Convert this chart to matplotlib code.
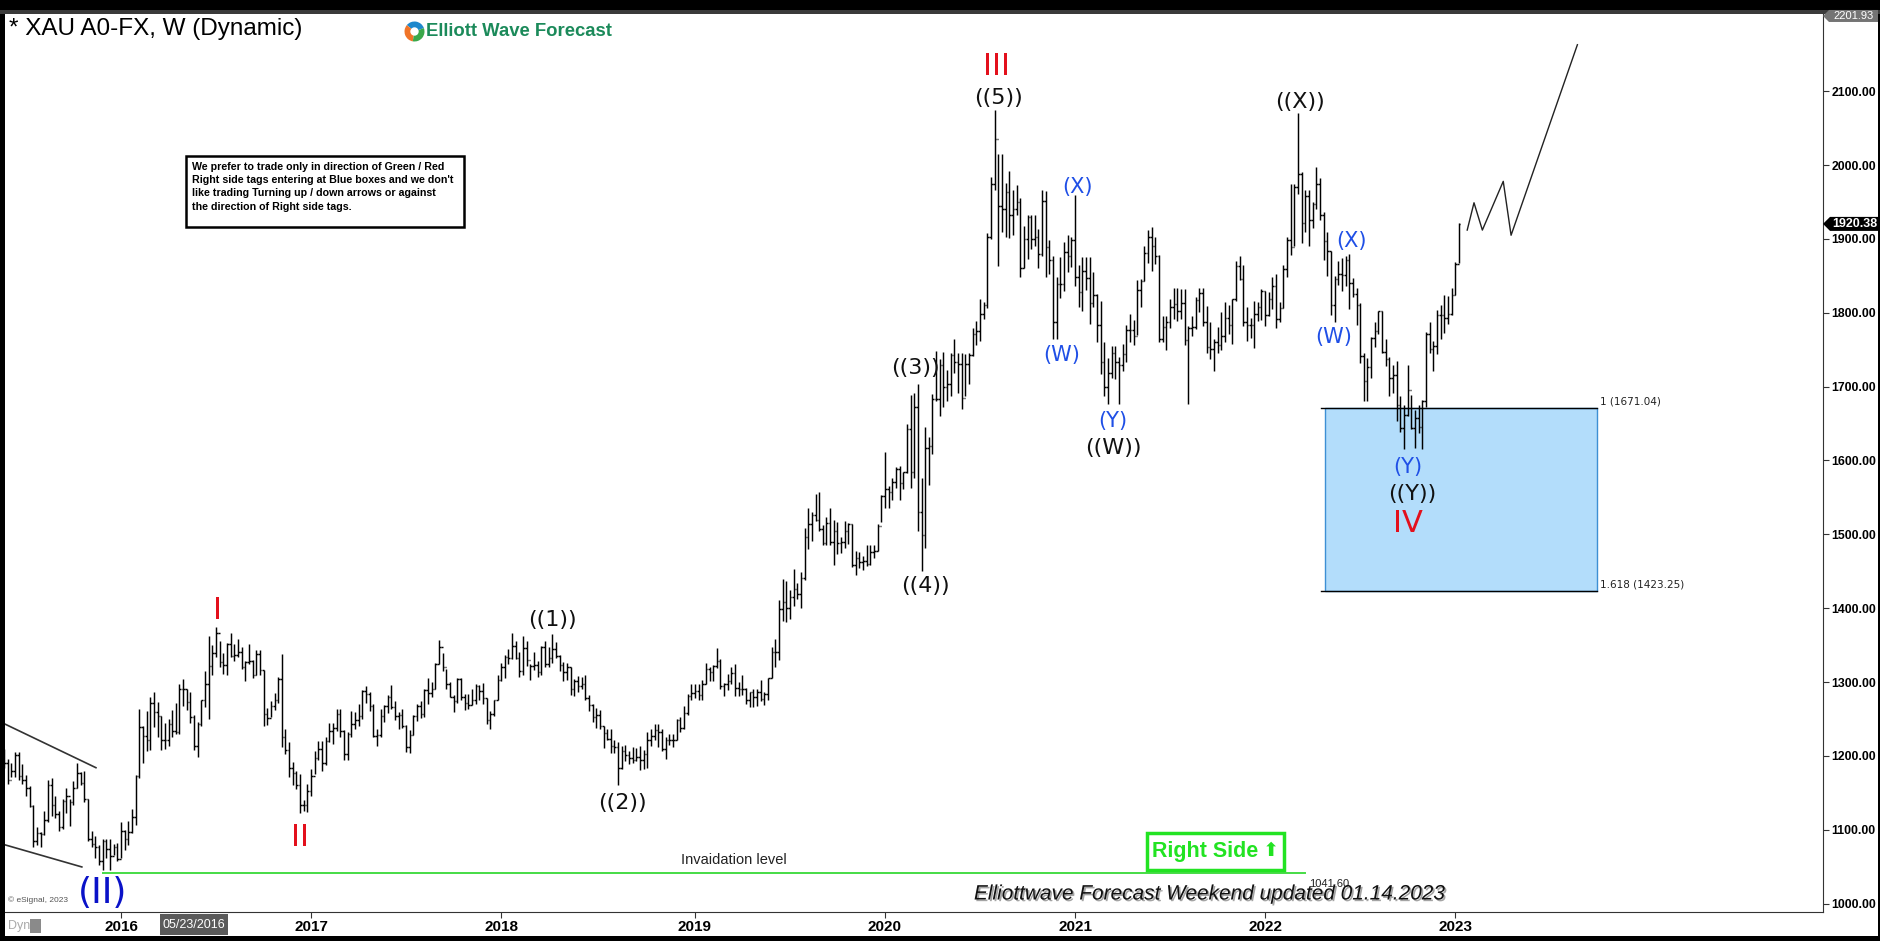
import numpy as np
import pandas as pd
import matplotlib
matplotlib.use('Agg')
import matplotlib.pyplot as plt
import matplotlib.dates as mdates
import matplotlib.patheffects as pe
from matplotlib.collections import LineCollection
from matplotlib.patches import Rectangle, Polygon, Wedge, Circle
from matplotlib.transforms import blended_transform_factory

plt.rcParams['font.family'] = ['Liberation Sans', 'DejaVu Sans']

# weekly bars (high, low, close); first week starts Monday 2015-05-25
first_open = 1205.0
w2015 = [(1209, 1183, 1190), (1196, 1162, 1168), (1191, 1171, 1179), (1205, 1172, 1201), (1205, 1168, 1173),
         (1189, 1162, 1168), (1174, 1146, 1157), (1159, 1131, 1132), (1133, 1077, 1085), (1104, 1080, 1095),
         (1097, 1077, 1094), (1126, 1093, 1113), (1168, 1111, 1160), (1170, 1119, 1134), (1146, 1116, 1121),
         (1125, 1098, 1104), (1142, 1101, 1139), (1157, 1123, 1146), (1141, 1105, 1137), (1166, 1133, 1156),
         (1191, 1156, 1177), (1178, 1161, 1163), (1180, 1137, 1142), (1142, 1085, 1088), (1098, 1077, 1081),
         (1091, 1062, 1076), (1080, 1052, 1057), (1088, 1046, 1085), (1088, 1062, 1074), (1088, 1046, 1065),
         (1081, 1066, 1076), (1082, 1058, 1061)]
w2016 = [(1111, 1062, 1098), (1100, 1072, 1088), (1112, 1080, 1097), (1128, 1096, 1117),
         (1174, 1107, 1173), (1263, 1170, 1239), (1240, 1191, 1227), (1261, 1207, 1221),
         (1280, 1208, 1271), (1287, 1239, 1259), (1273, 1225, 1254), (1254, 1208, 1221),
         (1245, 1209, 1222), (1250, 1213, 1243), (1262, 1226, 1234), (1271, 1230, 1233), (1297, 1230, 1291),
         (1304, 1268, 1290), (1290, 1262, 1273), (1287, 1244, 1252), (1255, 1208, 1214),
         (1246, 1199, 1243), (1276, 1240, 1275), (1315, 1266, 1298), (1362, 1250, 1322),
         (1350, 1309, 1339), (1375, 1334, 1366), (1356, 1320, 1327), (1339, 1311, 1323), (1353, 1310, 1351),
         (1367, 1334, 1335), (1352, 1328, 1336), (1358, 1334, 1341), (1347, 1317, 1321),
         (1329, 1302, 1327), (1352, 1325, 1328), (1330, 1306, 1310), (1344, 1309, 1338), (1343, 1310, 1316),
         (1316, 1241, 1257), (1265, 1242, 1251), (1274, 1252, 1267), (1285, 1262, 1276),
         (1307, 1272, 1304), (1338, 1212, 1225), (1236, 1202, 1208), (1219, 1171, 1183),
         (1192, 1160, 1177), (1180, 1155, 1161), (1176, 1123, 1134), (1140, 1125, 1133), (1162, 1124, 1152)]
w2017 = [(1182, 1146, 1173), (1207, 1176, 1197), (1220, 1194, 1209), (1220, 1180, 1191),
         (1225, 1187, 1220), (1245, 1219, 1234), (1245, 1216, 1238), (1264, 1234, 1257),
         (1264, 1225, 1234), (1235, 1194, 1202), (1232, 1195, 1229), (1261, 1226, 1243), (1260, 1237, 1249),
         (1270, 1241, 1254), (1289, 1250, 1288), (1295, 1271, 1284), (1287, 1261, 1268),
         (1270, 1226, 1227), (1236, 1214, 1228), (1264, 1226, 1254), (1269, 1246, 1267),
         (1282, 1258, 1280), (1296, 1264, 1266), (1274, 1249, 1254), (1260, 1236, 1256), (1263, 1238, 1241),
         (1242, 1205, 1212), (1235, 1204, 1228), (1256, 1228, 1254), (1270, 1247, 1268),
         (1274, 1251, 1257), (1291, 1253, 1289), (1306, 1270, 1285), (1300, 1280, 1291),
         (1326, 1291, 1325), (1357, 1324, 1347), (1339, 1315, 1320), (1317, 1290, 1297), (1300, 1280, 1280),
         (1283, 1260, 1274), (1306, 1272, 1304), (1306, 1276, 1280), (1284, 1262, 1272),
         (1284, 1263, 1269), (1290, 1269, 1275), (1297, 1270, 1294), (1296, 1276, 1288),
         (1299, 1270, 1279), (1278, 1243, 1248), (1261, 1236, 1257), (1276, 1254, 1275), (1309, 1275, 1303)]
w2018 = [(1326, 1302, 1320), (1337, 1305, 1334), (1345, 1324, 1332), (1366, 1331, 1349),
         (1356, 1331, 1333), (1340, 1307, 1315), (1362, 1310, 1346), (1355, 1322, 1330),
         (1325, 1303, 1322), (1341, 1316, 1323), (1329, 1307, 1313), (1349, 1309, 1347), (1356, 1321, 1325),
         (1347, 1321, 1332), (1365, 1326, 1345), (1354, 1332, 1335), (1336, 1315, 1323),
         (1327, 1302, 1314), (1326, 1303, 1320), (1321, 1282, 1291), (1304, 1281, 1301),
         (1308, 1286, 1294), (1307, 1290, 1298), (1309, 1276, 1278), (1282, 1261, 1269), (1270, 1246, 1253),
         (1265, 1238, 1256), (1262, 1237, 1241), (1241, 1211, 1231), (1236, 1221, 1223),
         (1237, 1204, 1214), (1221, 1204, 1212), (1219, 1160, 1184), (1214, 1182, 1206), (1215, 1193, 1201),
         (1207, 1189, 1197), (1212, 1191, 1194), (1211, 1193, 1199), (1214, 1181, 1194),
         (1208, 1182, 1203), (1233, 1183, 1222), (1236, 1213, 1227), (1243, 1221, 1235),
         (1243, 1212, 1233), (1237, 1206, 1209), (1225, 1196, 1222), (1230, 1215, 1222), (1230, 1212, 1222),
         (1250, 1221, 1249), (1253, 1233, 1238), (1268, 1236, 1258), (1284, 1256, 1281)]
w2019 = [(1298, 1276, 1285), (1298, 1279, 1288), (1298, 1276, 1282), (1303, 1276, 1298),
         (1326, 1298, 1317), (1320, 1302, 1314), (1323, 1302, 1322), (1346, 1319, 1328),
         (1331, 1291, 1294), (1299, 1281, 1298), (1311, 1289, 1302), (1320, 1298, 1312), (1324, 1281, 1292),
         (1300, 1281, 1291), (1310, 1282, 1290), (1292, 1270, 1276), (1287, 1266, 1286),
         (1290, 1266, 1280), (1290, 1267, 1286), (1303, 1274, 1277), (1286, 1269, 1284), (1306, 1276, 1305),
         (1347, 1305, 1341), (1358, 1321, 1341), (1411, 1330, 1399), (1439, 1383, 1409),
         (1437, 1381, 1400), (1424, 1386, 1415), (1453, 1403, 1426), (1434, 1412, 1419),
         (1449, 1400, 1441), (1509, 1438, 1497), (1535, 1480, 1514), (1530, 1491, 1526), (1555, 1518, 1520),
         (1557, 1504, 1507), (1512, 1485, 1488), (1524, 1485, 1516), (1535, 1485, 1489),
         (1519, 1459, 1504), (1517, 1474, 1488), (1497, 1475, 1490), (1518, 1481, 1505),
         (1516, 1487, 1514), (1514, 1456, 1459), (1478, 1445, 1468), (1476, 1455, 1462), (1470, 1452, 1464),
         (1485, 1457, 1460), (1486, 1458, 1476), (1485, 1468, 1478), (1514, 1477, 1511)]
w2020 = [(1553, 1517, 1552), (1611, 1535, 1562), (1565, 1536, 1557), (1576, 1546, 1571), (1591, 1563, 1589),
         (1592, 1547, 1570), (1585, 1562, 1584), (1649, 1583, 1643), (1689, 1563, 1585),
         (1692, 1576, 1673), (1703, 1504, 1530), (1576, 1451, 1499), (1645, 1482, 1617),
         (1632, 1567, 1620), (1690, 1609, 1683), (1748, 1680, 1683), (1738, 1660, 1729),
         (1747, 1673, 1700), (1722, 1681, 1703), (1745, 1688, 1743), (1765, 1718, 1734), (1745, 1692, 1730),
         (1745, 1670, 1684), (1744, 1688, 1730), (1746, 1704, 1743), (1779, 1742, 1771),
         (1789, 1757, 1775), (1818, 1762, 1798), (1815, 1792, 1810), (1908, 1806, 1902), (1984, 1900, 1975),
         (2075, 1966, 2035), (2015, 1863, 1944), (2015, 1910, 1940), (1976, 1902, 1964),
         (1992, 1901, 1933), (1966, 1906, 1941), (1973, 1932, 1950), (1955, 1848, 1861),
         (1917, 1861, 1900), (1933, 1873, 1930), (1933, 1886, 1900), (1932, 1890, 1902), (1914, 1860, 1879),
         (1966, 1877, 1951), (1965, 1849, 1889), (1898, 1853, 1871), (1877, 1765, 1788),
         (1848, 1765, 1839), (1875, 1820, 1839), (1896, 1829, 1882), (1906, 1855, 1877),
         (1902, 1862, 1898)]
w2021 = [(1959, 1836, 1849), (1865, 1808, 1828), (1875, 1803, 1856), (1876, 1831, 1847),
         (1875, 1785, 1813), (1855, 1808, 1824), (1826, 1760, 1784), (1816, 1717, 1734),
         (1760, 1687, 1700), (1739, 1677, 1719), (1755, 1712, 1745), (1755, 1711, 1733),
         (1740, 1677, 1729), (1758, 1721, 1744), (1784, 1733, 1777), (1798, 1760, 1777), (1790, 1756, 1768),
         (1845, 1770, 1831), (1846, 1808, 1843), (1890, 1843, 1881), (1912, 1868, 1903),
         (1916, 1856, 1891), (1903, 1866, 1877), (1878, 1761, 1764), (1795, 1761, 1781),
         (1795, 1750, 1787), (1818, 1779, 1808), (1834, 1792, 1812), (1833, 1789, 1802), (1832, 1791, 1813),
         (1832, 1757, 1763), (1782, 1677, 1779), (1795, 1768, 1781), (1822, 1778, 1817),
         (1834, 1801, 1827), (1834, 1782, 1788), (1809, 1745, 1754), (1787, 1737, 1751),
         (1765, 1721, 1761), (1781, 1746, 1757), (1801, 1750, 1768), (1814, 1760, 1793), (1810, 1771, 1783),
         (1818, 1758, 1818), (1870, 1816, 1864), (1877, 1844, 1846), (1865, 1782, 1788),
         (1808, 1762, 1783), (1793, 1766, 1783), (1816, 1753, 1798), (1814, 1789, 1808), (1832, 1790, 1829)]
w2022 = [(1830, 1782, 1797), (1828, 1796, 1818), (1848, 1805, 1836), (1853, 1780, 1791),
         (1815, 1788, 1807), (1865, 1806, 1859), (1902, 1849, 1898), (1974, 1878, 1889),
         (1975, 1890, 1970), (2070, 1961, 1988), (1990, 1895, 1921), (1966, 1910, 1958),
         (1966, 1890, 1925), (1950, 1915, 1947), (1998, 1941, 1974), (1982, 1925, 1932), (1936, 1872, 1897),
         (1910, 1850, 1883), (1884, 1797, 1811), (1850, 1787, 1846), (1870, 1837, 1853),
         (1874, 1829, 1851), (1877, 1836, 1871), (1879, 1805, 1840), (1847, 1822, 1826),
         (1833, 1784, 1811), (1813, 1732, 1742), (1745, 1680, 1707), (1739, 1681, 1727), (1767, 1712, 1766),
         (1788, 1754, 1775), (1803, 1771, 1802), (1802, 1746, 1747), (1765, 1728, 1737),
         (1740, 1688, 1712), (1729, 1691, 1716), (1735, 1654, 1675), (1688, 1639, 1644), (1675, 1615, 1661),
         (1729, 1660, 1695), (1689, 1642, 1644), (1668, 1617, 1657), (1675, 1637, 1645),
         (1682, 1616, 1681), (1774, 1673, 1771), (1787, 1746, 1751), (1762, 1721, 1755),
         (1804, 1744, 1797), (1810, 1765, 1797), (1824, 1773, 1793), (1823, 1785, 1798), (1833, 1797, 1824)]
w2023 = [(1869, 1824, 1866), (1922, 1867, 1920.38)]

# projected path after the last bar
proj_dates = ['2023-01-25', '2023-02-07', '2023-02-23', '2023-04-04', '2023-04-19', '2023-08-24']
proj_prices = [1912, 1949, 1912, 1978, 1905, 2163]

# wave labels: text, date, price, colour, size
RED, BLK, BLU, DBLU = '#e3101c', '#111111', '#1f4fe6', '#0a12c8'
wave_labels = [
    ('I', '2016-07-06', 1397, RED, 22), ('II', '2016-12-12', 1089, RED, 22),
    ('III', '2020-08-06', 2133, RED, 22), ('IV', '2022-10-04', 1514, RED, 22),
    ('(II)', '2015-11-30', 1014, DBLU, 26),
    ('((1))', '2018-04-10', 1384, BLK, 16), ('((2))', '2018-08-22', 1136, BLK, 16),
    ('((3))', '2020-03-04', 1725, BLK, 16), ('((4))', '2020-03-23', 1430, BLK, 16),
    ('((5))', '2020-08-10', 2091, BLK, 16),
    ('(W)', '2020-12-09', 1743, BLU, 15), ('(X)', '2021-01-09', 1970, BLU, 15),
    ('(Y)', '2021-03-17', 1653, BLU, 15), ('((W))', '2021-03-19', 1617, BLK, 16),
    ('((X))', '2022-03-11', 2085, BLK, 16),
    ('(W)', '2022-05-15', 1767, BLU, 15), ('(X)', '2022-06-18', 1897, BLU, 15),
    ('(Y)', '2022-10-04', 1591, BLU, 15), ('((Y))', '2022-10-11', 1555, BLK, 16),
]

box_top, box_bot = 1671.04, 1423.25
invalidation = 1041.60
last_price = 1920.38
top_price = 2201.93
years = [2016, 2017, 2018, 2019, 2020, 2021, 2022, 2023]
yticks = [1000, 1100, 1200, 1300, 1400, 1500, 1600, 1700, 1800, 1900, 2000, 2100]

bars = w2015 + w2016 + w2017 + w2018 + w2019 + w2020 + w2021 + w2022 + w2023
hi = np.array([b[0] for b in bars], float)
lo = np.array([b[1] for b in bars], float)
cl = np.array([b[2] for b in bars], float)
op = np.concatenate([[first_open], cl[:-1]])
dates = pd.date_range('2015-05-25', periods=len(bars), freq='7D')
x = mdates.date2num(dates)

W, H = 1881, 941
AXL, AXR, AXT, AXB = 5, 1823, 14, 912
fig = plt.figure(figsize=(W / 100, H / 100), dpi=100)
fig.patch.set_facecolor('black')


def F(px, py):
    return px / W, 1 - py / H


fig.add_artist(Rectangle(F(5, 936), 1873 / W, 922 / H, transform=fig.transFigure,
                         facecolor='white', edgecolor='none', zorder=0))
fig.add_artist(Rectangle(F(0, 14), 1, 4 / H, transform=fig.transFigure,
                         facecolor='#3a3a3a', edgecolor='none', zorder=0))

ax = fig.add_axes([AXL / W, 1 - AXB / H, (AXR - AXL) / W, (AXB - AXT) / H])
ax.set_facecolor('white')

# price bars
tk = 3.0
vseg = np.stack([np.column_stack([x, lo]), np.column_stack([x, hi])], axis=1)
oseg = np.stack([np.column_stack([x - tk, op]), np.column_stack([x, op])], axis=1)
cseg = np.stack([np.column_stack([x, cl]), np.column_stack([x + tk, cl])], axis=1)
ax.add_collection(LineCollection(np.concatenate([vseg, oseg, cseg]), colors='black', linewidths=1.05))

d = lambda s: mdates.datestr2num(s)

# channel lines at the left
ax.plot([d('2015-05-27'), d('2015-11-17')], [1243, 1184], color='#333333', lw=1.2)
ax.plot([d('2015-05-27'), d('2015-10-21')], [1079.5, 1049.6], color='#333333', lw=1.2)

# invalidation line
ax.plot([d('2015-11-30'), d('2022-03-20')], [invalidation, invalidation], color='#45dc45', lw=1.4)
ax.text(d('2019-03-23'), 1049, 'Invaidation level', fontsize=10.5, color='#222222',
        ha='center', va='bottom', family=['Liberation Sans Narrow', 'Liberation Sans'])
ax.text(d('2022-03-28'), 1027, '%.2f' % invalidation, fontsize=8, color='#222222',
        ha='left', va='center', zorder=6)

# blue box
ax.add_patch(Rectangle((d('2022-04-28'), box_bot), d('2023-09-30') - d('2022-04-28'), box_top - box_bot,
                       facecolor='#b3ddfb', edgecolor='#3d8fd4', lw=1.0, zorder=1))
for lvl in (box_top, box_bot):
    ax.plot([d('2022-04-20'), d('2023-09-30')], [lvl, lvl], color='black', lw=1.0, zorder=2)
ax.text(d('2023-10-06'), box_top + 2, '1 (%.2f)' % box_top, fontsize=7.5, color='#222222',
        family='DejaVu Sans', va='bottom')
ax.text(d('2023-10-06'), box_bot + 2, '1.618 (%.2f)' % box_bot, fontsize=7.5, color='#222222',
        family='DejaVu Sans', va='bottom')

# projection
ax.plot([d(s) for s in proj_dates], proj_prices, color='#222222', lw=1.0)

for txt, ds, pr, col, fs in wave_labels:
    ax.text(d(ds), pr, txt, color=col, fontsize=fs, ha='center', va='center',
            family='DejaVu Sans', zorder=5)

# axes
left = d('2016-01-04') - 116 * 1.915
ax.set_xlim(left, left + (AXR - AXL) * 1.915)
ax.set_ylim(988.6, 2204.6)
for s in ('left', 'top'):
    ax.spines[s].set_visible(False)
ax.spines['right'].set_color('#333333')
ax.spines['bottom'].set_color('#333333')
ax.yaxis.tick_right()
ax.set_yticks(yticks)
ax.set_yticklabels(['%.2f' % v for v in yticks], fontsize=8.8, fontweight='bold')
first_bar = [x[np.argmax(dates.year == yr)] for yr in years]
ax.set_xticks(first_bar)
ax.set_xticklabels([str(yr) for yr in years], fontsize=11, fontweight='bold')
ax.tick_params(axis='both', direction='out', length=4, color='#333333', pad=2)

# right-side price tags
tr = blended_transform_factory(ax.transAxes, ax.transData)
u = 1.0 / (AXR - AXL)
tag_w = 1878 - AXR
hh = 7 / 0.7385
ax.add_patch(Polygon([(1, last_price), (1 + 7 * u, last_price + hh), (1 + tag_w * u, last_price + hh),
                      (1 + tag_w * u, last_price - hh), (1 + 7 * u, last_price - hh)],
                     closed=True, transform=tr, facecolor='black', edgecolor='none', clip_on=False, zorder=7))
ax.text(1 + (tag_w / 2 + 4) * u, last_price, '%.2f' % last_price, transform=tr, color='white', fontsize=9,
        fontweight='bold', ha='center', va='center', clip_on=False, zorder=8)
hh2 = 6 / 0.7385
ax.add_patch(Polygon([(1, top_price), (1 + 6 * u, top_price + hh2), (1 + tag_w * u, top_price + hh2),
                      (1 + tag_w * u, top_price - hh2), (1 + 6 * u, top_price - hh2)],
                     closed=True, transform=tr, facecolor='#747474', edgecolor='none', clip_on=False, zorder=7))
ax.text(1 + (tag_w / 2 + 3) * u, top_price, '%.2f' % top_price, transform=tr, color='white', fontsize=8,
        ha='center', va='center', clip_on=False, zorder=8)

# header
fig.text(*F(9, 29), '* XAU A0-FX, W (Dynamic)', fontsize=17.5, ha='left', va='center', color='black')
lax = fig.add_axes([404 / W, 1 - 42 / H, 21 / W, 21 / H])
lax.set_xlim(-1.05, 1.05)
lax.set_ylim(-1.05, 1.05)
lax.set_aspect('equal')
lax.axis('off')
lax.add_patch(Wedge((0, 0), 1, 20, 140, facecolor='#1e88cc'))
lax.add_patch(Wedge((0, 0), 1, 140, 260, facecolor='#f07428'))
lax.add_patch(Wedge((0, 0), 1, 260, 380, facecolor='#3aa84a'))
lax.add_patch(Circle((0, 0), 0.42, facecolor='white'))
fig.text(*F(426, 31), 'Elliott Wave Forecast', fontsize=13.3, fontweight='bold', color='#1b8a5a',
         ha='left', va='center')

# note box
fig.add_artist(Rectangle(F(186, 227), 278 / W, 71 / H, transform=fig.transFigure,
                         facecolor='white', edgecolor='black', lw=1.8, zorder=3))
fig.text(*F(192, 162), "We prefer to trade only in direction of Green / Red\n"
         "Right side tags entering at Blue boxes and we don't\n"
         "like trading Turning up / down arrows or against\n"
         "the direction of Right side tags.", fontsize=7.7, fontweight='bold',
         ha='left', va='top', linespacing=1.4, zorder=4)

# right side tag
fig.add_artist(Rectangle(F(1147, 870), 137 / W, 37 / H, transform=fig.transFigure,
                         facecolor='white', edgecolor='#22e322', lw=2.5, zorder=3))
fig.text(*F(1152, 852), 'Right Side', fontsize=15.5, fontweight='bold', color='#22e322',
         family=['Liberation Sans Narrow', 'Liberation Sans'], ha='left', va='center', zorder=4)
fig.text(*F(1279, 851), '\u2b06', fontsize=14, color='#22e322', family='DejaVu Sans',
         ha='right', va='center', zorder=4)

# footer
fig.text(*F(1210, 894), 'Elliottwave Forecast Weekend updated 01.14.2023', fontsize=15, style='italic',
         family=['Liberation Sans Narrow', 'Liberation Sans'], color='#111111', ha='center', va='center',
         path_effects=[pe.withSimplePatchShadow(offset=(1.2, -1.2), shadow_rgbFace='#9a9a9a', alpha=0.9)])
fig.text(*F(8, 900), '\u00a9 eSignal, 2023', fontsize=6, color='#555555', ha='left', va='center')
fig.text(*F(8, 926), 'Dyn', fontsize=9, color='#aaaaaa', ha='left', va='center')
fig.add_artist(Rectangle(F(30, 933), 11 / W, 14 / H, transform=fig.transFigure,
                         facecolor='#8a8a8a', edgecolor='none'))
fig.add_artist(Rectangle(F(160, 935), 68 / W, 21 / H, transform=fig.transFigure,
                         facecolor='#5a5a5a', edgecolor='none', zorder=3))
fig.text(*F(194, 925), '05/23/2016', fontsize=9, color='white', ha='center', va='center', zorder=4)

fig.savefig('out.png', dpi=100, facecolor=fig.get_facecolor())
